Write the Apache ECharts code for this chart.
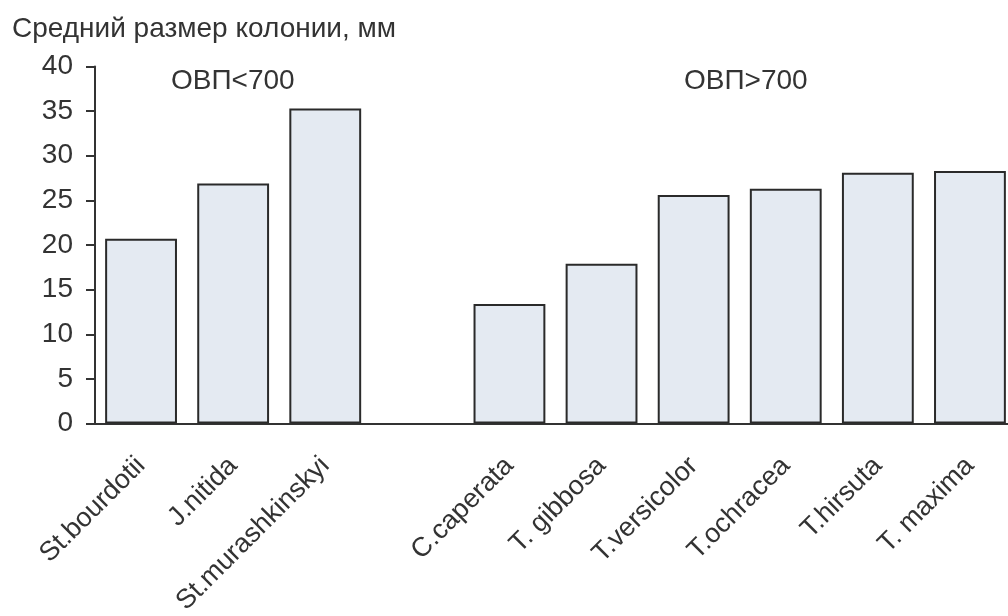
<!DOCTYPE html>
<html>
<head>
<meta charset="utf-8">
<title>Средний размер колонии</title>
<script src="https://cdn.jsdelivr.net/npm/echarts@6/dist/echarts.min.js"></script>
<style>
  html, body { margin: 0; padding: 0; background: #fff; }
  #chart { width: 1008px; height: 616px; }
</style>
</head>
<body>
<div id="chart"></div>
<script>
// виды (пустая категория разделяет группы ОВП<700 и ОВП>700)
const species = ['St.bourdotii', 'J.nitida', 'St.murashkinskyi', '', 'C.caperata', 'T. gibbosa', 'T.versicolor', 'T.ochracea', 'T.hirsuta', 'T. maxima']
// средний размер колонии, мм
const colonySize = [20.7, 26.9, 35.3, null, 13.4, 17.9, 25.6, 26.3, 28.1, 28.3]
const yTicks = [0, 5, 10, 15, 20, 25, 30, 35, 40]
const groupLabels = ['ОВП<700', 'ОВП>700']

const chart = echarts.init(document.getElementById('chart'))
const font = 'Liberation Sans, Arial, sans-serif'
const textColor = '#333'

const option = {
  animation: false,
  title: {
    text: 'Средний размер колонии, мм',
    left: 7,
    top: 10,
    textStyle: { fontFamily: font, fontSize: 28, fontWeight: 'normal', color: textColor }
  },
  graphic: [
    { type: 'text', left: 171, top: 67, style: { text: groupLabels[0], font: '28px ' + font, fill: textColor } },
    { type: 'text', left: 684, top: 67, style: { text: groupLabels[1], font: '28px ' + font, fill: textColor } }
  ],
  grid: { left: 95, top: 66.5, width: 921, height: 357, outerBoundsMode: 'none' },
  xAxis: {
    type: 'category',
    data: species,
    axisLine: { lineStyle: { color: '#333', width: 2 } },
    axisTick: { show: false },
    axisLabel: {
      rotate: 45,
      interval: 0,
      margin: 38,
      fontFamily: font,
      fontSize: 27,
      color: textColor
    }
  },
  yAxis: {
    type: 'value',
    min: yTicks[0],
    max: yTicks[yTicks.length - 1],
    interval: 5,
    splitLine: { show: false },
    axisLine: { show: true, lineStyle: { color: '#333', width: 2 } },
    axisTick: { show: true, length: 9, lineStyle: { color: '#333', width: 2 } },
    axisLabel: { margin: 22, fontFamily: font, fontSize: 28, color: textColor }
  },
  series: [
    {
      type: 'bar',
      data: colonySize,
      barCategoryGap: '22%',
      itemStyle: { color: '#e4eaf2', borderColor: '#2a2a2a', borderWidth: 2 }
    }
  ]
}

chart.setOption(option)
window.addEventListener('resize', () => chart.resize())
</script>
</body>
</html>
